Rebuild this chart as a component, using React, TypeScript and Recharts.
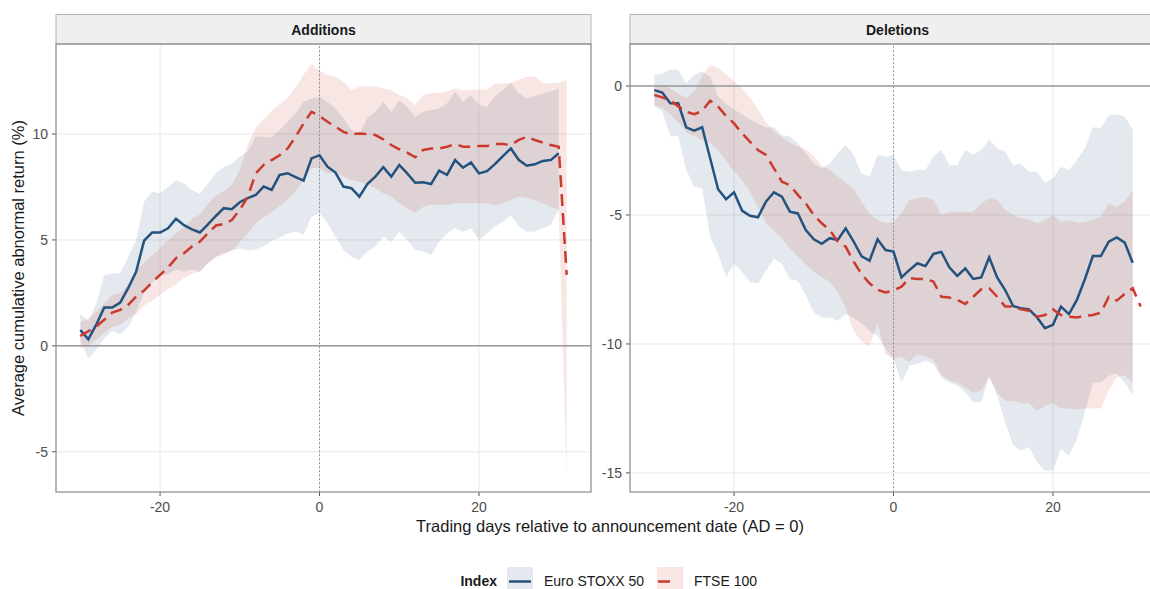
import React from "react";
import { Area, CartesianGrid, ComposedChart, Line, ReferenceLine, XAxis, YAxis } from "recharts";

// trading days relative to announcement date
const days = [
  -30, -29, -28, -27, -26, -25, -24, -23, -22, -21, -20, -19, -18, -17, -16, -15, -14, -13, -12, -11, -10,
  -9, -8, -7, -6, -5, -4, -3, -2, -1, 0, 1, 2, 3, 4, 5, 6, 7, 8, 9, 10, 11, 12, 13, 14, 15, 16, 17, 18, 19,
  20, 21, 22, 23, 24, 25, 26, 27, 28, 29, 30, 31,
];

// Additions panel
const addEuro = [
  0.75, 0.31, 1.0, 1.81, 1.81, 2.04, 2.72, 3.5, 4.97, 5.35, 5.35, 5.55, 6.0, 5.7, 5.5, 5.35, 5.74, 6.13, 6.5, 6.45, 6.78,
  6.97, 7.12, 7.52, 7.36, 8.07, 8.15, 7.96, 7.8, 8.85, 9.0, 8.46, 8.18, 7.52, 7.44, 7.04, 7.64, 7.99, 8.43, 7.99,
  8.54, 8.14, 7.7, 7.72, 7.64, 8.27, 8.07, 8.77, 8.41, 8.66, 8.14, 8.25, 8.58, 8.96, 9.32, 8.77, 8.5, 8.57, 8.73,
  8.77, 9.09, null,
];
const addEuroLo = [
  0.25, -0.6, -0.2, 0.35, 0.7, 0.55, 0.9, 1.6, 2.5, 3.0, 3.3, 3.4, 3.6, 3.5, 3.6, 3.5, 3.9, 4.2, 4.4, 4.5, 4.6,
  4.5, 4.55, 4.7, 4.95, 5.1, 5.3, 5.4, 5.24, 6.1, 6.26, 5.79, 5.16, 4.53, 4.21, 4.06, 4.45, 4.69, 5.16, 4.92,
  5.39, 5.0, 4.53, 4.45, 4.29, 4.92, 5.31, 5.55, 5.39, 5.55, 5.0, 5.31, 5.63, 5.86, 6.18, 5.63, 5.39, 5.39, 5.55,
  5.71, 6.42, null,
];
const addEuroHi = [
  1.51, 1.15, 2.0, 3.35, 3.4, 3.43, 4.2, 5.0, 6.8, 7.28, 7.2, 7.5, 7.83, 7.67, 7.36, 7.17, 7.67, 8.14, 8.46, 8.6, 8.93,
  9.17, 9.87, 9.87, 9.84, 10.19, 10.58, 10.97, 11.52, 11.68, 11.76, 11.52, 11.2, 10.74, 10.19, 10.03, 10.74, 11.05,
  11.52, 11.05, 11.6, 11.29, 10.82, 11.05, 11.13, 11.2, 11.45, 12.0, 11.52, 11.84, 11.37, 11.29, 11.76, 12.08,
  12.42, 11.92, 11.68, 11.79, 11.92, 12.0, 12.15, null,
];
const addFtse = [
  0.47, 0.69, 0.91, 1.23, 1.57, 1.7, 1.93, 2.33, 2.61, 3.0, 3.35, 3.7, 4.14, 4.37, 4.69, 4.92, 5.31, 5.68, 5.75, 5.94,
  6.42, 7.04, 8.14, 8.54, 8.77, 9.0, 9.32, 9.87, 10.5, 11.05, 10.85, 10.58, 10.35, 10.1, 9.98, 10.03, 10.0, 9.95,
  9.75, 9.48, 9.28, 9.12, 8.9, 9.25, 9.32, 9.32, 9.4, 9.53, 9.4, 9.4, 9.43, 9.43, 9.53, 9.53, 9.48, 9.72, 9.87,
  9.72, 9.6, 9.48, 9.4, 3.35,
];
const addFtseLo = [
  -0.1, 0.0, 0.3, 0.6, 0.9, 1.0, 1.3, 1.5, 1.9, 2.1, 2.4, 2.7, 2.9, 3.2, 3.4, 3.5, 3.9, 4.2, 4.3, 4.5, 4.9, 5.3,
  5.8, 6.1, 6.3, 6.6, 6.9, 7.3, 7.8, 8.4, 8.4, 8.14, 8.2, 7.99, 7.83, 7.75, 7.6, 7.44, 7.2, 7.04, 6.73, 6.5, 6.26,
  6.57, 6.65, 6.65, 6.65, 6.73, 6.73, 6.73, 6.73, 6.73, 6.65, 6.73, 6.89, 7.04, 6.97, 6.89, 6.73, 6.57, 6.42, -6.2,
];
const addFtseHi = [
  1.1, 1.3, 1.6, 2.0, 2.4, 2.5, 2.9, 3.6, 3.9, 4.3, 4.6, 5.0, 5.3, 5.6, 6.0, 6.2, 6.7, 7.1, 7.3, 7.6, 8.3, 9.5,
  10.3, 10.7, 11.1, 11.4, 11.7, 12.2, 12.8, 13.3, 13.0, 12.78, 12.7, 12.47, 12.08, 12.23, 12.28, 12.23, 12.15,
  12.08, 11.84, 11.68, 11.37, 11.84, 11.92, 11.95, 12.0, 12.15, 12.08, 12.08, 12.1, 12.1, 12.39, 12.39, 12.42,
  12.55, 12.7, 12.7, 12.42, 12.39, 12.42, 12.55,
];

// Deletions panel
const delEuro = [
  -0.16, -0.25, -0.67, -0.67, -1.6, -1.73, -1.6, -2.8, -4.0, -4.39, -4.12, -4.83, -5.03, -5.09, -4.48, -4.12, -4.29,
  -4.87, -4.94, -5.58, -5.94, -6.12, -5.9, -5.97, -5.52, -6.03, -6.6, -6.77, -5.94, -6.36, -6.42, -7.42, -7.13,
  -6.87, -6.98, -6.51, -6.43, -7.03, -7.36, -7.07, -7.48, -7.42, -6.64, -7.42, -7.91, -8.53, -8.62, -8.66, -8.97,
  -9.39, -9.26, -8.55, -8.84, -8.29, -7.49, -6.59, -6.59, -6.03, -5.87, -6.07, -6.85, null,
];
const delEuroLo = [
  -0.75, -1.0, -1.95, -1.95, -3.25, -3.9, -3.97, -5.84, -6.5, -7.4, -6.9, -7.2, -7.6, -7.67, -7.16, -6.7, -6.9,
  -7.48, -7.55, -8.13, -8.77, -8.97, -8.97, -9.1, -8.84, -9.0, -9.2, -9.5, -9.7, -10.2, -10.58, -11.49, -10.84,
  -10.78, -10.65, -10.78, -11.29, -11.49, -11.61, -11.87, -12.26, -12.26, -11.23, -12.0, -13.04, -13.94, -14.13,
  -14.0, -14.59, -14.91, -14.91, -14.07, -14.33, -13.68, -12.65, -11.49, -11.49, -11.23, -11.16, -11.49, -12.0, null,
];
const delEuroHi = [
  0.43, 0.49, 0.65, 0.62, 0.1, 0.43, 0.58, 0.36, -0.4, -0.7, -0.9, -1.1, -1.3, -1.45, -1.6, -1.6, -1.9, -1.96,
  -2.22, -2.61, -3.0, -3.19, -3.0, -2.61, -2.29, -2.67, -3.39, -3.51, -2.67, -2.74, -2.67, -3.26, -3.32, -3.26,
  -3.26, -2.74, -2.48, -3.06, -3.06, -2.48, -2.67, -2.48, -2.07, -2.42, -2.55, -3.06, -3.02, -3.32, -3.32, -3.75,
  -3.58, -3.13, -3.26, -2.87, -2.42, -1.6, -1.64, -1.12, -1.09, -1.19, -1.68, null,
];
const delFtse = [
  -0.35, -0.44, -0.57, -0.78, -1.0, -1.09, -0.97, -0.57, -0.8, -1.16, -1.45, -1.83, -2.16, -2.48, -2.67, -3.19,
  -3.71, -3.84, -4.22, -4.55, -5.0, -5.32, -5.58, -6.03, -6.23, -6.81, -7.3, -7.65, -7.9, -8.0, -7.93, -7.78, -7.45,
  -7.48, -7.48, -7.58, -8.17, -8.2, -8.29, -8.45, -8.17, -7.88, -7.84, -8.17, -8.55, -8.55, -8.66, -8.71, -8.94,
  -8.88, -8.66, -8.88, -8.94, -8.97, -8.91, -8.88, -8.79, -8.17, -8.32, -8.06, -7.84, -8.55,
];
const delFtseLo = [
  -0.75, -0.85, -1.1, -1.4, -1.8, -1.95, -2.1, -2.2, -2.5, -2.9, -3.3, -3.65, -4.1, -4.7, -5.3, -5.6, -5.9, -6.3,
  -6.6, -6.9, -7.2, -7.4, -7.6, -8.0, -8.6, -9.5, -9.9, -10.1, -9.2, -10.4, -10.6, -10.5, -10.7, -10.4, -10.5,
  -10.6, -11.2, -11.4, -11.5, -11.7, -11.9, -11.8, -11.3, -11.9, -12.2, -12.2, -12.3, -12.3, -12.6, -12.4, -12.3,
  -12.5, -12.5, -12.55, -12.5, -12.5, -12.5, -11.8, -11.3, -11.2, -11.5, null,
];
const delFtseHi = [
  0.0, 0.05, -0.1, -0.3, -0.45, -0.2, 0.4, 0.82, 0.7, 0.45, 0.2, -0.1, -0.45, -0.9, -1.4, -1.75, -2.0, -2.2, -2.35,
  -2.45, -2.7, -3.1, -3.25, -3.5, -3.75, -4.0, -4.5, -4.94, -5.19, -5.32, -5.26, -4.94, -4.42, -4.35, -4.29, -4.42,
  -5.0, -4.87, -4.87, -4.87, -4.87, -4.55, -4.35, -4.42, -4.81, -5.0, -5.13, -5.17, -5.32, -5.19, -5.0, -5.26,
  -5.19, -5.3, -5.26, -5.19, -5.06, -4.55, -4.68, -4.48, -4.03, null,
];

const addYTicks = [-5, 0, 5, 10];
const delYTicks = [-15, -10, -5, 0];
const xTicks = [-20, 0, 20];

const BLUE = "#23527f";
const RED = "#cb3a2e";
const FONT = "'Liberation Sans', Arial, sans-serif";

type Num = number | null;

function band(lo: Num, hi: Num) {
  return lo == null || hi == null ? null : [lo, hi];
}

function rows(euro: Num[], euroLo: Num[], euroHi: Num[], ftse: Num[], ftseLo: Num[], ftseHi: Num[]) {
  return days.map((d, i) => ({
    d,
    euro: euro[i],
    ftse: ftse[i],
    euroBand: band(euroLo[i], euroHi[i]),
    ftseBand: band(ftseLo[i], ftseHi[i]),
  }));
}

const addData = rows(addEuro, addEuroLo, addEuroHi, addFtse, addFtseLo, addFtseHi);
const delData = rows(delEuro, delEuroLo, delEuroHi, delFtse, delFtseLo, delFtseHi);

const tickStyle = { fill: "#4d4d4d", fontSize: 14, fontFamily: FONT };

function Panel({ data, yDomain, yTicks }: { data: any[]; yDomain: number[]; yTicks: number[] }) {
  return (
    <ComposedChart width={600} height={522} data={data} margin={{ top: 44, right: 9, bottom: 0, left: 0 }}>
      <CartesianGrid stroke="#e8e8e8" strokeWidth={1} />
      <XAxis
        dataKey="d"
        type="number"
        domain={[-33.05, 34.05]}
        ticks={xTicks}
        allowDataOverflow
        axisLine={false}
        tickSize={4}
        tickMargin={6}
        tickLine={{ stroke: "#555" }}
        tick={tickStyle}
        height={30}
      />
      <YAxis
        type="number"
        domain={yDomain}
        ticks={yTicks}
        allowDataOverflow
        axisLine={false}
        width={56}
        tickSize={4}
        tickMargin={4}
        tickLine={{ stroke: "#555" }}
        tick={tickStyle}
      />
      <ReferenceLine y={0} stroke="#9a9a9a" strokeWidth={1.5} />
      <ReferenceLine x={0} stroke="#8a8a8a" strokeWidth={1} strokeDasharray="1.5 2.5" />
      <Area
        type="linear"
        dataKey="euroBand"
        stroke="none"
        fill={BLUE}
        fillOpacity={0.13}
        isAnimationActive={false}
        dot={false}
        activeDot={false}
      />
      <Area
        type="linear"
        dataKey="ftseBand"
        stroke="none"
        fill={RED}
        fillOpacity={0.13}
        isAnimationActive={false}
        dot={false}
        activeDot={false}
      />
      <Line
        type="linear"
        dataKey="euro"
        stroke={BLUE}
        strokeWidth={2.5}
        dot={false}
        activeDot={false}
        isAnimationActive={false}
      />
      <Line
        type="linear"
        dataKey="ftse"
        stroke={RED}
        strokeWidth={2.5}
        strokeDasharray="12 7"
        dot={false}
        activeDot={false}
        isAnimationActive={false}
      />
    </ComposedChart>
  );
}

function Strip({ x, label }: { x: number; label: string }) {
  return (
    <g>
      <rect x={x} y={14.5} width={535} height={29.5} fill="#efefef" stroke="#b3b3b3" strokeWidth={1} />
      <text x={x + 267.5} y={30} textAnchor="middle" dominantBaseline="central" fontSize={14} fontWeight="bold" fill="#1a1a1a" fontFamily={FONT}>
        {label}
      </text>
      <rect x={x} y={44} width={535} height={448} fill="none" stroke="#8f8f8f" strokeWidth={1.2} />
    </g>
  );
}

export default function App() {
  return (
    <div style={{ position: "absolute", left: 0, top: 0, width: 1150, height: 589, overflow: "hidden", background: "#fff" }}>
      <div style={{ position: "absolute", left: 0, top: 0 }}>
        <Panel data={addData} yDomain={[-6.9, 14.25]} yTicks={addYTicks} />
      </div>
      <div style={{ position: "absolute", left: 574, top: 0 }}>
        <Panel data={delData} yDomain={[-15.74, 1.63]} yTicks={delYTicks} />
      </div>
      <svg width={1150} height={589} style={{ position: "absolute", left: 0, top: 0, pointerEvents: "none" }}>
        <Strip x={56} label="Additions" />
        <Strip x={630} label="Deletions" />
        <text
          x={18}
          y={268}
          transform="rotate(-90, 18, 268)"
          textAnchor="middle"
          dominantBaseline="central"
          fontSize={16.5}
          fill="#1a1a1a"
          fontFamily={FONT}
        >
          Average cumulative abnormal return (%)
        </text>
        <text x={610} y={526} textAnchor="middle" dominantBaseline="central" fontSize={16.5} fill="#1a1a1a" fontFamily={FONT}>
          Trading days relative to announcement date (AD = 0)
        </text>
        <text x={497} y={581} textAnchor="end" dominantBaseline="central" fontSize={14} fontWeight="bold" fill="#1a1a1a" fontFamily={FONT}>
          Index
        </text>
        <rect x={507} y={567} width={26} height={28} fill={BLUE} fillOpacity={0.13} />
        <line x1={509} x2={531} y1={581.5} y2={581.5} stroke={BLUE} strokeWidth={2.5} />
        <text x={544} y={581} dominantBaseline="central" fontSize={14} fill="#1a1a1a" fontFamily={FONT}>
          Euro STOXX 50
        </text>
        <rect x={657} y={567} width={26} height={28} fill={RED} fillOpacity={0.13} />
        <line x1={657} x2={683} y1={581.5} y2={581.5} stroke={RED} strokeWidth={2.5} strokeDasharray="12 13" strokeDashoffset={-1} />
        <text x={694} y={581} dominantBaseline="central" fontSize={14} fill="#1a1a1a" fontFamily={FONT}>
          FTSE 100
        </text>
      </svg>
    </div>
  );
}
